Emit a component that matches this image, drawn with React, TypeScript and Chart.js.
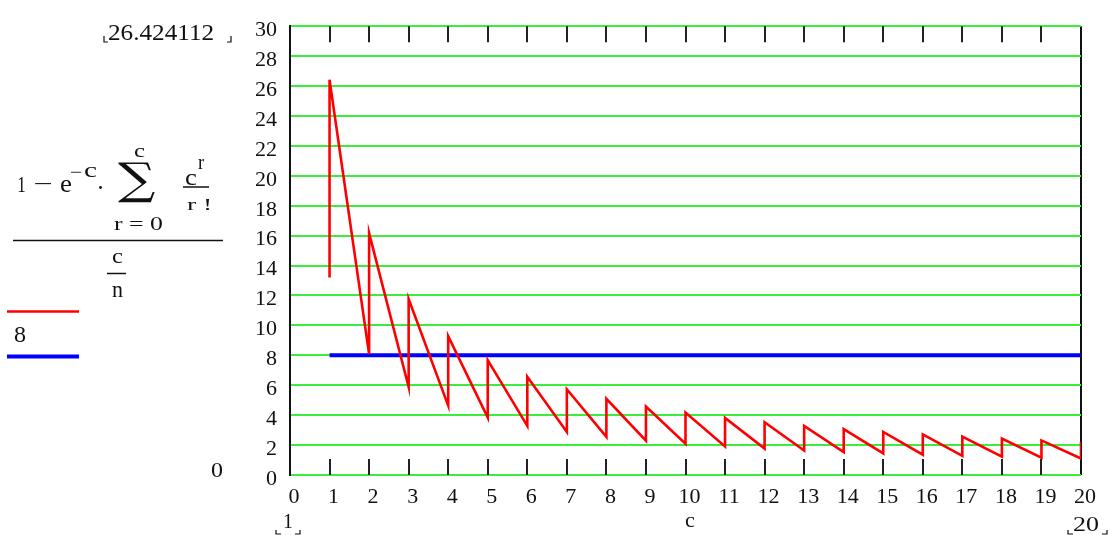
import React, { useEffect, useRef } from "react";
import { Chart, registerables } from "chart.js";

Chart.register(...registerables);

// Integer values of c where the sawtooth jumps
const cSteps = [1, 2, 3, 4, 5, 6, 7, 8, 9, 10, 11, 12, 13, 14, 15, 16, 17, 18, 19, 20];
// Value at the top of each jump
const highValues = [26.42, 16.17, 11.76, 9.28, 7.68, 6.56, 5.73, 5.09, 4.58, 4.17, 3.82, 3.53, 3.28, 3.07, 2.88, 2.71, 2.56, 2.43, 2.31, 2.2];
// Value at the bottom of each jump
const lowValues = [13.21, 8.08, 5.88, 4.64, 3.84, 3.28, 2.87, 2.55, 2.29, 2.09, 1.91, 1.77, 1.64, 1.53, 1.44, 1.36, 1.28, 1.22, 1.16, 1.1];
// Constant comparison line
const thresholdValue = 8;
const thresholdRange = [1, 20];
// Axes
const xMin = 0, xMax = 20, xStep = 1;
const yMin = 0, yMax = 30, yStep = 2;

const SERIF = '"Liberation Serif", "Times New Roman", serif';
const TEXT = "#111";
const GREEN = "rgb(60,238,60)";

function fit(ctx: CanvasRenderingContext2D, text: string, font: string, x0: number, y0: number, x1: number, y1: number) {
  ctx.save();
  ctx.font = font;
  ctx.textAlign = "left";
  ctx.textBaseline = "alphabetic";
  const m = ctx.measureText(text);
  const w = m.actualBoundingBoxLeft + m.actualBoundingBoxRight;
  const h = m.actualBoundingBoxAscent + m.actualBoundingBoxDescent;
  const sx = (x1 - x0) / w;
  const sy = (y1 - y0) / h;
  ctx.translate(x0, y0);
  ctx.scale(sx, sy);
  ctx.fillStyle = TEXT;
  ctx.fillText(text, m.actualBoundingBoxLeft, m.actualBoundingBoxAscent);
  ctx.restore();
}

function line(ctx: CanvasRenderingContext2D, pts: number[][], color: string, width: number) {
  ctx.save();
  ctx.strokeStyle = color;
  ctx.lineWidth = width;
  ctx.beginPath();
  pts.forEach((p, i) => (i === 0 ? ctx.moveTo(p[0], p[1]) : ctx.lineTo(p[0], p[1])));
  ctx.stroke();
  ctx.restore();
}

const mathcadTicks = {
  id: "mathcadTicks",
  beforeDatasetsDraw(chart: any) {
    const ctx = chart.ctx as CanvasRenderingContext2D;
    const xs = chart.scales.x;
    const { top, bottom } = chart.chartArea;
    for (let v = xMin + xStep; v < xMax; v += xStep) {
      const px = Math.round(xs.getPixelForValue(v));
      line(ctx, [[px, bottom], [px, bottom - 16]], "#222", 2);
      line(ctx, [[px, top], [px, top + 16]], "#222", 2);
    }
  },
};

const annotations = {
  id: "annotations",
  afterDraw(chart: any) {
    const ctx = chart.ctx as CanvasRenderingContext2D;
    const F = (s: number) => `${s}px ${SERIF}`;
    // upper limit label
    fit(ctx, "26.424112", F(22), 108, 25, 213, 40);
    line(ctx, [[104, 36], [104, 42], [108, 42]], TEXT, 1.2);
    line(ctx, [[227, 42], [231, 42], [231, 36]], TEXT, 1.2);
    // lower limit label
    fit(ctx, "0", F(22), 211, 464, 223, 477);
    // formula numerator
    fit(ctx, "1", F(22), 18, 177, 25, 192);
    fit(ctx, "\u2212", F(22), 35, 183, 52, 185);
    fit(ctx, "e", F(22), 60, 181, 71, 192);
    fit(ctx, "\u2212", F(18), 70, 171, 82, 173);
    fit(ctx, "c", F(18), 84, 167, 97, 177);
    ctx.save();
    ctx.fillStyle = TEXT;
    ctx.beginPath();
    ctx.arc(100.5, 187.5, 1.4, 0, Math.PI * 2);
    ctx.fill();
    ctx.restore();
    fit(ctx, "\u2211", `48px "DejaVu Serif", ${SERIF}`, 118, 162, 155, 203);
    fit(ctx, "c", F(18), 134, 148, 145, 157);
    fit(ctx, "r = 0", F(20), 114, 217, 163, 230);
    fit(ctx, "c", F(20), 185, 173, 197, 185);
    fit(ctx, "r", F(16), 198, 159, 205, 169);
    line(ctx, [[183, 187], [209, 187]], TEXT, 1.5);
    fit(ctx, "r !", F(20), 187, 199, 210, 210);
    // main fraction bar
    line(ctx, [[13, 240.5], [223, 240.5]], TEXT, 1.5);
    fit(ctx, "c", F(20), 112, 253, 123, 263);
    line(ctx, [[107, 273.5], [126, 273.5]], TEXT, 1.5);
    fit(ctx, "n", F(20), 112, 285, 123, 297);
    // legend
    line(ctx, [[7, 311.5], [79, 311.5]], "#ff0000", 2.5);
    fit(ctx, "8", F(22), 14, 327, 26, 342);
    line(ctx, [[7, 356.5], [79, 356.5]], "#0000ff", 4);
    // x limits and variable name
    fit(ctx, "1", F(20), 284, 514, 292, 528);
    line(ctx, [[276, 530], [276, 534], [281, 534]], TEXT, 1.2);
    line(ctx, [[295, 534], [300, 534], [300, 530]], TEXT, 1.2);
    fit(ctx, "c", F(20), 685, 517, 695, 527);
    fit(ctx, "20", F(20), 1073, 516, 1099, 531);
    line(ctx, [[1068, 530], [1068, 534], [1073, 534]], TEXT, 1.2);
    line(ctx, [[1102, 534], [1107, 534], [1107, 530]], TEXT, 1.2);
  },
};

export default function App() {
  const ref = useRef<HTMLCanvasElement | null>(null);

  useEffect(() => {
    document.body.style.margin = "0";
    const canvas = ref.current!;
    const sawPoints: { x: number; y: number }[] = [];
    cSteps.forEach((c, i) => {
      sawPoints.push({ x: c, y: lowValues[i] });
      sawPoints.push({ x: c, y: highValues[i] });
    });
    const thresholdPoints = thresholdRange.map((x) => ({ x, y: thresholdValue }));

    const chart = new Chart(canvas, {
      type: "line",
      data: {
        datasets: [
          {
            data: thresholdPoints,
            borderColor: "#0000ff",
            borderWidth: 4,
            pointRadius: 0,
            tension: 0,
            order: 2,
          },
          {
            data: sawPoints,
            borderColor: "#ff0000",
            borderWidth: 2.6,
            pointRadius: 0,
            tension: 0,
            order: 1,
          },
        ],
      },
      options: {
        responsive: false,
        animation: false,
        devicePixelRatio: 1,
        layout: { padding: { top: 17, right: 28, left: 0, bottom: 0 } },
        plugins: { legend: { display: false }, tooltip: { enabled: false } },
        scales: {
          x: {
            type: "linear",
            min: xMin,
            max: xMax,
            ticks: {
              stepSize: xStep,
              color: TEXT,
              font: { family: SERIF, size: 22 },
              padding: 9,
              labelOffset: 4,
              maxRotation: 0,
              autoSkip: false,
            },
            grid: {
              drawTicks: false,
              lineWidth: 2,
              color: (c: any) => (c.tick && (c.tick.value === xMin || c.tick.value === xMax) ? "#111" : "rgba(0,0,0,0)"),
            },
            border: { display: false },
            afterFit: (s: any) => {
              s.height = 60;
            },
          },
          y: {
            min: yMin,
            max: yMax,
            ticks: {
              stepSize: yStep,
              color: TEXT,
              font: { family: SERIF, size: 22 },
              padding: 13,
              labelOffset: 4,
              autoSkip: false,
            },
            grid: { drawTicks: false, lineWidth: 2, color: GREEN },
            border: { display: true, color: "#111", width: 2 },
            afterFit: (s: any) => {
              s.width = 290;
            },
          },
        },
      },
      plugins: [mathcadTicks, annotations],
    });
    return () => chart.destroy();
  }, []);

  return (
    <div style={{ position: "relative", width: 1109, height: 535, background: "#fff" }}>
      <canvas ref={ref} width={1109} height={535} style={{ display: "block" }} />
    </div>
  );
}
